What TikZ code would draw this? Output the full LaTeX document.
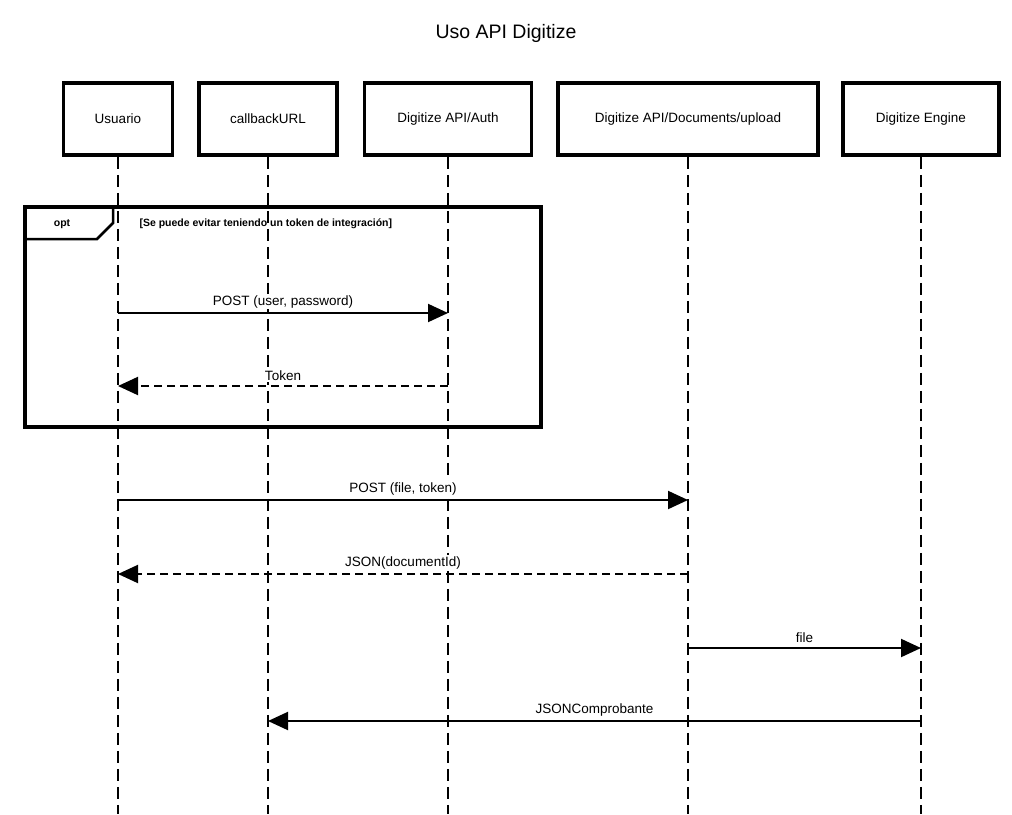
\documentclass[tikz,border=0pt]{standalone}
\usepackage{fontspec}
\setmainfont{Liberation Sans}
\usetikzlibrary{arrows.meta}
\begin{document}
\begin{tikzpicture}[x=1pt,y=-1pt,
  actor/.style={draw,line width=3.5pt,minimum height=72pt,inner sep=0pt,font=\fontsize{13.5}{15}\selectfont},
  life/.style={line width=2pt,dash pattern=on 12pt off 6pt},
  msg/.style={line width=2pt,-{Triangle[length=20pt,width=18pt]}},
  ret/.style={msg,dash pattern=on 8pt off 5pt},
  lbl/.style={font=\fontsize{13.5}{15}\selectfont,above=3pt,fill=white,inner sep=1pt}]
\useasboundingbox (0,0) rectangle (1012,814);
\node[font=\fontsize{19.5}{22}\selectfont] (title) at (506,33) {Uso API Digitize};
\node[actor,minimum width=109pt] (u) at (118,119) {Usuario};
\node[actor,minimum width=138pt] (c) at (268,119) {callbackURL};
\node[actor,minimum width=167pt] (a) at (448,119) {Digitize API/Auth};
\node[actor,minimum width=260pt] (d) at (688,119) {Digitize API/Documents/upload};
\node[actor,minimum width=156pt] (e) at (921,119) {Digitize Engine};
\foreach \n/\x in {u/118,c/268,a/448,d/688,e/921}{
  \coordinate (\n end) at (\x,814);
  \draw[life] (\n.south) -- (\n end);}
% opt frame
\draw[line width=3.5pt] (25,207) rectangle (541,427);
\draw[line width=2.5pt] (25,239) -- (97,239) -- (113,223) -- (113,207);
\node[font=\bfseries\fontsize{10.5}{12}\selectfont] (optl) at (62,224) {opt};
\node[font=\bfseries\fontsize{10.5}{12}\selectfont,anchor=west] (cond) at (136,224) {[Se puede evitar teniendo un token de integración]};
% messages
\foreach \n/\y in {u1/313,u2/386,u3/500,u4/574}{\coordinate (\n) at (118,\y);}
\coordinate (a1) at (448,313); \coordinate (a2) at (448,386);
\coordinate (d3) at (688,500); \coordinate (d4) at (688,574); \coordinate (d5) at (688,648);
\coordinate (e5) at (921,648); \coordinate (e6) at (921,721); \coordinate (c6) at (268,721);
\draw[msg] (u1) -- node[lbl]{POST (user, password)} (a1);
\draw[ret] (a2) -- node[lbl]{Token} (u2);
\draw[msg] (u3) -- node[lbl]{POST (file, token)} (d3);
\draw[ret] (d4) -- node[lbl]{JSON(documentId)} (u4);
\draw[msg] (d5) -- node[lbl]{file} (e5);
\draw[msg] (e6) -- node[lbl]{JSONComprobante} (c6);
\end{tikzpicture}
\end{document}
